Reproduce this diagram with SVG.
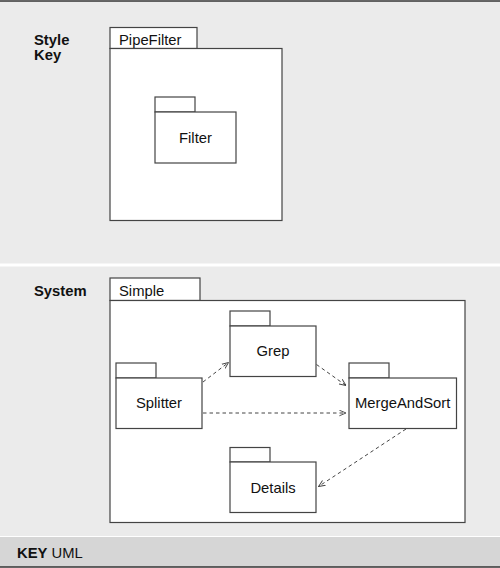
<svg xmlns="http://www.w3.org/2000/svg" width="500" height="568" viewBox="0 0 500 568">
<defs>
<style>
text{font-family:"Liberation Sans",Arial,sans-serif;font-size:14.8px;fill:#111}
.b{font-weight:bold}
.box{fill:#fff;stroke:#444;stroke-width:1.2}
.c{fill:none;stroke:#444;stroke-width:1;stroke-dasharray:3.5,3}
.m{text-anchor:middle}
</style>
<marker id="ah" viewBox="0 0 10 10" refX="9.5" refY="5" markerWidth="7" markerHeight="7" markerUnits="userSpaceOnUse" orient="auto">
<path d="M0,1 L9.5,5 L0,9" fill="none" stroke="#444" stroke-width="1.3"/>
</marker>
</defs>
<rect x="0" y="0" width="500" height="568" fill="#ffffff"/>
<rect x="0" y="1" width="500" height="262.5" fill="#ebebeb"/>
<rect x="0" y="266.5" width="500" height="269.5" fill="#ebebeb"/>
<rect x="0" y="537" width="500" height="30" fill="#d6d6d6"/>
<line x1="0" y1="1" x2="500" y2="1" stroke="#333" stroke-width="1.5"/>
<line x1="0" y1="567" x2="500" y2="567" stroke="#333" stroke-width="1.5"/>

<g id="style-key-label">
<text class="b" x="34" y="45">Style</text>
<text class="b" x="34" y="60">Key</text>
</g>
<g id="PipeFilter">
<rect class="box" x="110" y="27.5" width="87" height="21"/>
<rect class="box" x="110" y="48.5" width="172" height="172"/>
<text x="119" y="44.5">PipeFilter</text>
</g>
<g id="Filter">
<rect class="box" x="155" y="97" width="40" height="15"/>
<rect class="box" x="155" y="112" width="81" height="51"/>
<text class="m" x="195.5" y="142.7">Filter</text>
</g>

<g id="system-label">
<text class="b" x="34" y="296">System</text>
</g>
<g id="Simple">
<rect class="box" x="110" y="278" width="90" height="22.5"/>
<rect class="box" x="110" y="300.5" width="355" height="222"/>
<text x="119" y="295.5">Simple</text>
</g>
<g id="Splitter">
<rect class="box" x="116" y="363" width="40" height="15"/>
<rect class="box" x="116" y="378" width="86" height="50.5"/>
<text class="m" x="159" y="408.3">Splitter</text>
</g>
<g id="Grep">
<rect class="box" x="230" y="311" width="40" height="15"/>
<rect class="box" x="230" y="326" width="86" height="50.5"/>
<text class="m" x="273" y="356">Grep</text>
</g>
<g id="MergeAndSort">
<rect class="box" x="349" y="363" width="40" height="15"/>
<rect class="box" x="349" y="378" width="107.5" height="50.5"/>
<text class="m" x="402.7" y="407.8">MergeAndSort</text>
</g>
<g id="Details">
<rect class="box" x="230" y="447.5" width="40" height="14.5"/>
<rect class="box" x="230" y="462" width="86" height="50.5"/>
<text class="m" x="273" y="492.7">Details</text>
</g>

<g id="connectors">
<line class="c" x1="203" y1="382" x2="228.5" y2="362.5" marker-end="url(#ah)"/>
<line class="c" x1="203" y1="413" x2="346" y2="413" marker-end="url(#ah)"/>
<line class="c" x1="316.5" y1="364.5" x2="346" y2="385.5" marker-end="url(#ah)"/>
<line class="c" x1="406" y1="429" x2="318.5" y2="486.5" marker-end="url(#ah)"/>
</g>

<g id="key">
<text x="17" y="557.5"><tspan class="b">KEY</tspan> UML</text>
</g>
</svg>
